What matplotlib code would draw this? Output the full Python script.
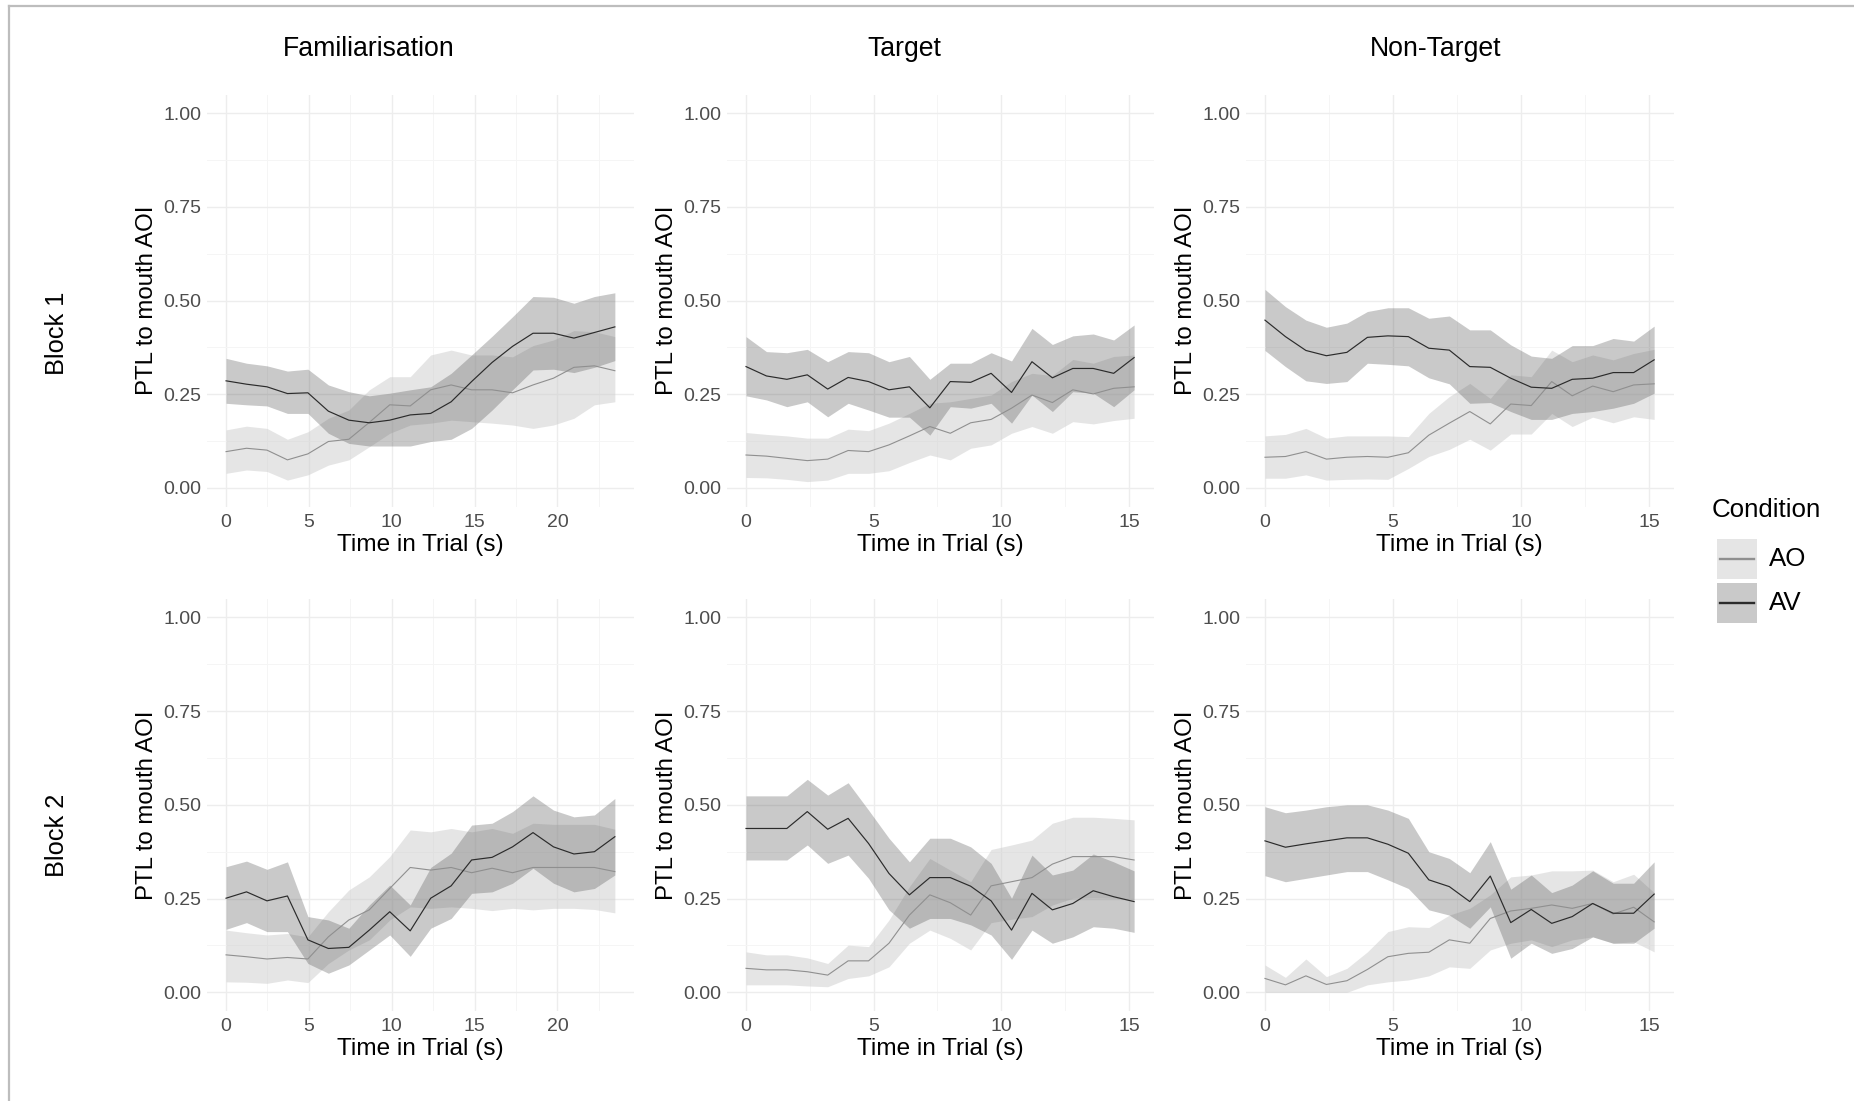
import matplotlib
matplotlib.use("Agg")
import matplotlib.pyplot as plt
import numpy as np
from matplotlib.lines import Line2D
from matplotlib.patches import Rectangle

plt.rcParams["font.family"] = ["Liberation Sans", "DejaVu Sans"]

# time grids (s)
FAM_TIME = np.round(np.arange(20) * 1.235, 3)
TRIAL_TIME = np.round(np.arange(20) * 0.8, 3)

COLUMNS = ["Familiarisation", "Target", "Non-Target"]
ROWS = ["Block 1", "Block 2"]
CONDITIONS = ["AO", "AV"]

# Block 1 - Familiarisation
FAM1_AV = [0.286, 0.277, 0.270, 0.252, 0.254, 0.205, 0.181, 0.174, 0.181, 0.195, 0.199, 0.230, 0.284, 0.335, 0.378, 0.413, 0.413, 0.400, 0.415, 0.430]
FAM1_AV_HI = [0.346, 0.333, 0.326, 0.312, 0.317, 0.275, 0.257, 0.246, 0.253, 0.262, 0.270, 0.306, 0.355, 0.405, 0.457, 0.511, 0.509, 0.493, 0.511, 0.521]
FAM1_AV_LO = [0.226, 0.222, 0.219, 0.199, 0.199, 0.146, 0.119, 0.112, 0.112, 0.112, 0.124, 0.130, 0.159, 0.208, 0.262, 0.315, 0.317, 0.308, 0.322, 0.340]
FAM1_AO = [0.097, 0.106, 0.101, 0.075, 0.091, 0.124, 0.130, 0.175, 0.222, 0.219, 0.262, 0.275, 0.262, 0.262, 0.254, 0.275, 0.293, 0.322, 0.326, 0.313]
FAM1_AO_HI = [0.155, 0.165, 0.159, 0.130, 0.150, 0.186, 0.208, 0.262, 0.297, 0.297, 0.355, 0.368, 0.355, 0.355, 0.350, 0.380, 0.395, 0.420, 0.417, 0.404]
FAM1_AO_LO = [0.039, 0.048, 0.044, 0.021, 0.035, 0.061, 0.075, 0.110, 0.146, 0.168, 0.173, 0.181, 0.177, 0.173, 0.168, 0.159, 0.168, 0.186, 0.222, 0.230]

# Block 1 - Target
TGT1_AV = [0.324, 0.299, 0.290, 0.302, 0.264, 0.295, 0.284, 0.262, 0.270, 0.214, 0.284, 0.282, 0.306, 0.255, 0.337, 0.294, 0.319, 0.319, 0.306, 0.348]
TGT1_AV_HI = [0.404, 0.364, 0.361, 0.370, 0.337, 0.364, 0.361, 0.337, 0.351, 0.290, 0.333, 0.333, 0.361, 0.339, 0.426, 0.383, 0.406, 0.411, 0.395, 0.435]
TGT1_AV_LO = [0.246, 0.235, 0.217, 0.230, 0.190, 0.226, 0.208, 0.189, 0.189, 0.141, 0.217, 0.213, 0.226, 0.173, 0.248, 0.204, 0.257, 0.253, 0.217, 0.262]
TGT1_AO = [0.088, 0.085, 0.079, 0.073, 0.077, 0.100, 0.097, 0.115, 0.139, 0.164, 0.146, 0.174, 0.183, 0.213, 0.248, 0.228, 0.262, 0.251, 0.266, 0.270]
TGT1_AO_HI = [0.148, 0.143, 0.139, 0.133, 0.133, 0.157, 0.153, 0.173, 0.199, 0.226, 0.230, 0.239, 0.248, 0.284, 0.306, 0.300, 0.343, 0.333, 0.351, 0.355]
TGT1_AO_LO = [0.028, 0.027, 0.023, 0.017, 0.021, 0.039, 0.039, 0.046, 0.068, 0.088, 0.075, 0.106, 0.115, 0.146, 0.164, 0.146, 0.177, 0.171, 0.180, 0.186]

# Block 1 - Non-Target
NON1_AV = [0.448, 0.404, 0.367, 0.353, 0.362, 0.402, 0.406, 0.404, 0.373, 0.368, 0.324, 0.322, 0.293, 0.269, 0.266, 0.290, 0.293, 0.308, 0.308, 0.342]
NON1_AV_HI = [0.530, 0.484, 0.448, 0.429, 0.440, 0.471, 0.481, 0.481, 0.453, 0.459, 0.422, 0.422, 0.382, 0.352, 0.346, 0.380, 0.380, 0.399, 0.392, 0.432]
NON1_AV_LO = [0.367, 0.324, 0.286, 0.279, 0.284, 0.333, 0.330, 0.326, 0.294, 0.278, 0.226, 0.228, 0.204, 0.183, 0.183, 0.199, 0.204, 0.213, 0.226, 0.253]
NON1_AO = [0.082, 0.084, 0.097, 0.077, 0.082, 0.084, 0.082, 0.094, 0.141, 0.173, 0.204, 0.171, 0.224, 0.220, 0.284, 0.246, 0.272, 0.257, 0.275, 0.278]
NON1_AO_HI = [0.139, 0.143, 0.159, 0.133, 0.139, 0.139, 0.139, 0.137, 0.199, 0.244, 0.279, 0.239, 0.302, 0.297, 0.368, 0.337, 0.355, 0.342, 0.359, 0.370]
NON1_AO_LO = [0.026, 0.026, 0.035, 0.021, 0.023, 0.024, 0.023, 0.052, 0.084, 0.103, 0.130, 0.101, 0.144, 0.144, 0.199, 0.164, 0.189, 0.174, 0.190, 0.183]

# Block 2 - Familiarisation
FAM2_AV = [0.251, 0.268, 0.244, 0.257, 0.140, 0.117, 0.120, 0.166, 0.215, 0.164, 0.251, 0.284, 0.353, 0.360, 0.388, 0.426, 0.388, 0.369, 0.375, 0.415]
FAM2_AV_HI = [0.335, 0.350, 0.328, 0.348, 0.202, 0.193, 0.171, 0.233, 0.286, 0.233, 0.333, 0.371, 0.446, 0.451, 0.482, 0.524, 0.486, 0.468, 0.473, 0.517]
FAM2_AV_LO = [0.168, 0.186, 0.162, 0.162, 0.077, 0.051, 0.073, 0.113, 0.153, 0.096, 0.171, 0.197, 0.264, 0.268, 0.291, 0.331, 0.291, 0.268, 0.277, 0.313]
FAM2_AO = [0.100, 0.095, 0.089, 0.093, 0.089, 0.148, 0.193, 0.220, 0.277, 0.333, 0.326, 0.333, 0.319, 0.331, 0.319, 0.333, 0.333, 0.333, 0.333, 0.322]
FAM2_AO_HI = [0.166, 0.159, 0.153, 0.157, 0.148, 0.215, 0.273, 0.308, 0.362, 0.433, 0.428, 0.437, 0.428, 0.437, 0.424, 0.451, 0.448, 0.448, 0.448, 0.435]
FAM2_AO_LO = [0.028, 0.027, 0.024, 0.033, 0.026, 0.077, 0.113, 0.140, 0.193, 0.228, 0.224, 0.228, 0.224, 0.218, 0.224, 0.220, 0.224, 0.224, 0.221, 0.212]

# Block 2 - Target
TGT2_AV = [0.437, 0.437, 0.437, 0.482, 0.435, 0.464, 0.397, 0.317, 0.260, 0.306, 0.306, 0.283, 0.244, 0.166, 0.264, 0.220, 0.237, 0.271, 0.255, 0.242]
TGT2_AV_HI = [0.524, 0.524, 0.524, 0.568, 0.526, 0.559, 0.486, 0.411, 0.348, 0.411, 0.411, 0.388, 0.344, 0.251, 0.366, 0.313, 0.326, 0.369, 0.348, 0.324]
TGT2_AV_LO = [0.353, 0.353, 0.353, 0.393, 0.344, 0.366, 0.304, 0.220, 0.171, 0.197, 0.197, 0.180, 0.153, 0.088, 0.166, 0.131, 0.148, 0.175, 0.171, 0.160]
TGT2_AO = [0.064, 0.060, 0.060, 0.055, 0.046, 0.084, 0.084, 0.131, 0.206, 0.260, 0.239, 0.206, 0.284, 0.295, 0.306, 0.342, 0.362, 0.362, 0.362, 0.353]
TGT2_AO_HI = [0.108, 0.100, 0.100, 0.092, 0.077, 0.126, 0.122, 0.193, 0.282, 0.357, 0.326, 0.295, 0.381, 0.393, 0.406, 0.451, 0.467, 0.467, 0.464, 0.460]
TGT2_AO_LO = [0.020, 0.020, 0.020, 0.017, 0.015, 0.037, 0.044, 0.068, 0.131, 0.166, 0.144, 0.113, 0.186, 0.195, 0.202, 0.233, 0.251, 0.252, 0.251, 0.246]

# Block 2 - Non-Target
NON2_AV = [0.404, 0.387, 0.396, 0.404, 0.412, 0.412, 0.395, 0.371, 0.300, 0.282, 0.242, 0.310, 0.186, 0.221, 0.184, 0.202, 0.237, 0.211, 0.211, 0.262]
NON2_AV_HI = [0.495, 0.479, 0.486, 0.495, 0.500, 0.500, 0.486, 0.464, 0.375, 0.357, 0.319, 0.402, 0.275, 0.313, 0.266, 0.286, 0.324, 0.291, 0.291, 0.348]
NON2_AV_LO = [0.311, 0.295, 0.304, 0.313, 0.322, 0.322, 0.300, 0.277, 0.220, 0.206, 0.171, 0.228, 0.091, 0.131, 0.104, 0.117, 0.148, 0.131, 0.131, 0.171]
NON2_AO = [0.037, 0.020, 0.044, 0.021, 0.031, 0.061, 0.095, 0.104, 0.107, 0.140, 0.131, 0.197, 0.217, 0.224, 0.233, 0.224, 0.237, 0.209, 0.227, 0.188]
NON2_AO_HI = [0.073, 0.040, 0.089, 0.042, 0.064, 0.108, 0.162, 0.175, 0.173, 0.206, 0.224, 0.260, 0.308, 0.313, 0.324, 0.324, 0.326, 0.295, 0.315, 0.266]
NON2_AO_LO = [0.000, 0.000, 0.000, 0.000, 0.000, 0.020, 0.028, 0.033, 0.044, 0.068, 0.064, 0.113, 0.131, 0.140, 0.122, 0.140, 0.148, 0.131, 0.135, 0.108]

PANELS = [
    [(FAM_TIME, FAM1_AO, FAM1_AO_LO, FAM1_AO_HI, FAM1_AV, FAM1_AV_LO, FAM1_AV_HI),
     (TRIAL_TIME, TGT1_AO, TGT1_AO_LO, TGT1_AO_HI, TGT1_AV, TGT1_AV_LO, TGT1_AV_HI),
     (TRIAL_TIME, NON1_AO, NON1_AO_LO, NON1_AO_HI, NON1_AV, NON1_AV_LO, NON1_AV_HI)],
    [(FAM_TIME, FAM2_AO, FAM2_AO_LO, FAM2_AO_HI, FAM2_AV, FAM2_AV_LO, FAM2_AV_HI),
     (TRIAL_TIME, TGT2_AO, TGT2_AO_LO, TGT2_AO_HI, TGT2_AV, TGT2_AV_LO, TGT2_AV_HI),
     (TRIAL_TIME, NON2_AO, NON2_AO_LO, NON2_AO_HI, NON2_AV, NON2_AV_LO, NON2_AV_HI)],
]

AO_FILL = ("#cccccc", 0.5)
AV_FILL = ("#4d4d4d", 0.3)
AO_LINE = "#8f8f8f"
AV_LINE = "#2b2b2b"
GRID = "#ededed"
TICK_COLOR = "#4d4d4d"

W, H = 1854, 1101
fig = plt.figure(figsize=(W / 100, H / 100), dpi=100)

# panel boxes in pixels: (left, width) per column, (top, height) per row
col_px = [(206.6, 427.7), (726.6, 426.9), (1245.5, 428.1)]
row_px = [(94.6, 412.1), (598.6, 412.5)]

for r in range(2):
    for c in range(3):
        left, width = col_px[c]
        top, height = row_px[r]
        ax = fig.add_axes([left / W, 1 - (top + height) / H, width / W, height / H])
        t, ao, ao_lo, ao_hi, av, av_lo, av_hi = PANELS[r][c]
        ax.fill_between(t, ao_lo, ao_hi, color=AO_FILL[0], alpha=AO_FILL[1], lw=0, zorder=2)
        ax.fill_between(t, av_lo, av_hi, color=AV_FILL[0], alpha=AV_FILL[1], lw=0, zorder=2)
        ax.plot(t, ao, color=AO_LINE, lw=0.8, zorder=3)
        ax.plot(t, av, color=AV_LINE, lw=0.85, zorder=3)

        xmax = t[-1]
        ax.set_xlim(-0.05 * xmax, 1.05 * xmax)
        ax.set_ylim(-0.05, 1.05)
        ax.set_xticks(np.arange(0, xmax + 0.01, 5))
        ax.set_xticks(np.arange(2.5, 1.05 * xmax, 5), minor=True)
        ax.set_yticks([0, 0.25, 0.5, 0.75, 1.0])
        ax.set_yticklabels(["0.00", "0.25", "0.50", "0.75", "1.00"])
        ax.set_yticks([0.125, 0.375, 0.625, 0.875], minor=True)
        ax.grid(which="major", color=GRID, lw=1.0, zorder=0)
        ax.grid(which="minor", color="#f5f5f5", lw=0.7, zorder=0)
        ax.set_axisbelow(True)
        for s in ax.spines.values():
            s.set_visible(False)
        ax.tick_params(which="both", length=0, labelsize=14, labelcolor=TICK_COLOR)
        ax.tick_params(axis="y", pad=3.5)
        ax.tick_params(axis="x", pad=5)

        ax.set_ylabel("PTL to mouth AOI", fontsize=17.3, color="black")
        ax.yaxis.set_label_coords(-0.114, 0.5)
        ax.set_xlabel("Time in Trial (s)", fontsize=17.6, color="black")
        ax.xaxis.set_label_coords(0.5, -0.066)
        ax.xaxis.label.set_va("top")

# column titles
for x_px, name in zip([369, 904, 1436], COLUMNS):
    fig.text(x_px / W, 1 - 48.5 / H, name, fontsize=19.2, ha="center", va="center")

# row labels
for y_px, name in zip([333, 835], ROWS):
    fig.text(57 / W, 1 - y_px / H, name, fontsize=18.3, rotation=90, ha="center", va="center")

# legend, drawn by hand: title, key boxes with line, labels
fig.text(1712 / W, 1 - 510 / H, "Condition", fontsize=18.6, ha="left", va="center")
key_styles = [(AO_FILL, AO_LINE), (AV_FILL, AV_LINE)]
for i, (label, (fill, line_color)) in enumerate(zip(CONDITIONS, key_styles)):
    top = 539 + i * 44
    fig.add_artist(Rectangle((1716.7 / W, 1 - (top + 40) / H), 40 / W, 40 / H,
                             facecolor=fill[0], alpha=fill[1], edgecolor="none",
                             transform=fig.transFigure))
    yc = 1 - (top + 20) / H
    fig.add_artist(Line2D([1719.5 / W, 1754 / W], [yc, yc], color=line_color, lw=1.7,
                          transform=fig.transFigure))
    fig.text(1769 / W, yc, label, fontsize=18.6, ha="left", va="center")

# frame lines on top and left of the image
fig.add_artist(Line2D([9 / W, 1], [1 - 6 / H, 1 - 6 / H], color="#bdbdbd", lw=1.6, transform=fig.transFigure))
fig.add_artist(Line2D([9 / W, 9 / W], [0, 1 - 6 / H], color="#bdbdbd", lw=1.6, transform=fig.transFigure))

fig.savefig("out.png", dpi=100, facecolor="white")
